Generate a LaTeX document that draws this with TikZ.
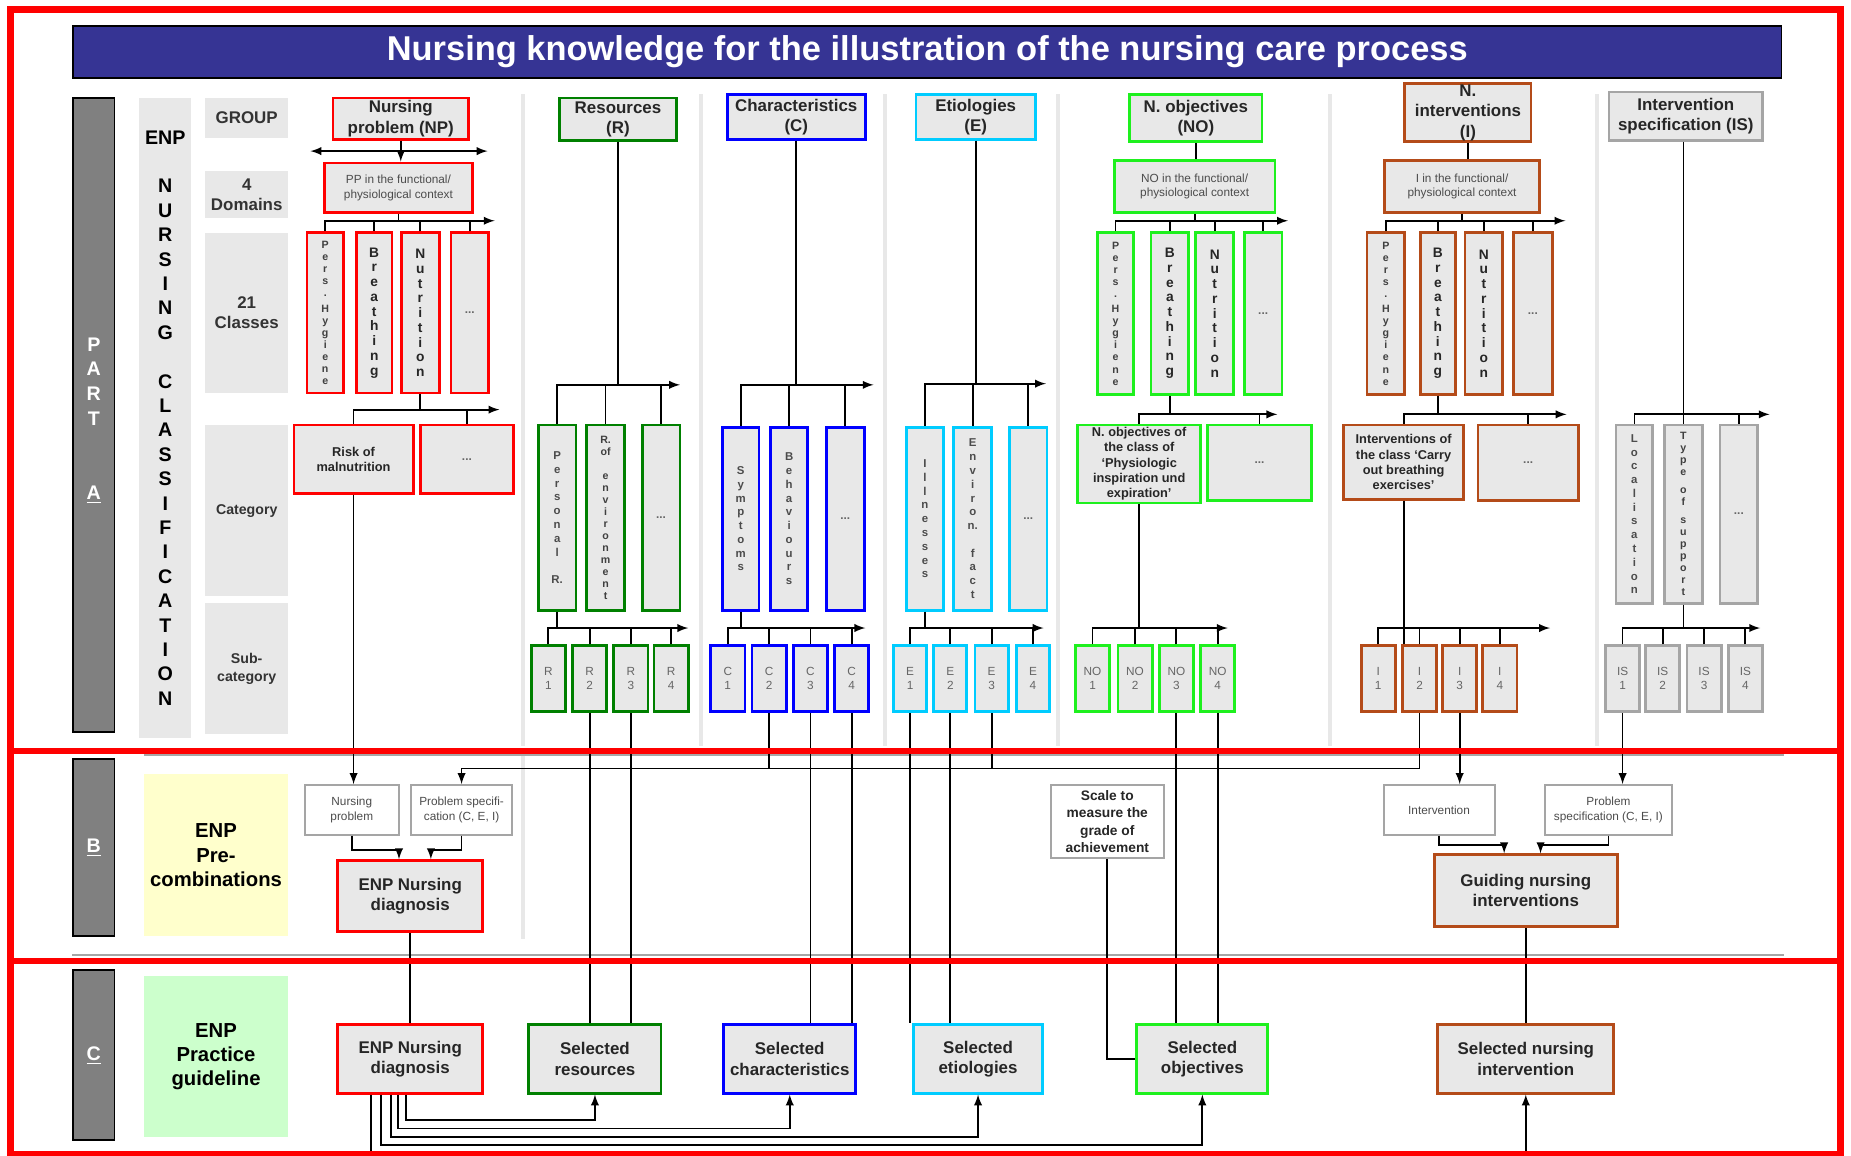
\documentclass[tikz,border=0pt]{standalone}
\usepackage{fontspec}
\setmainfont{Liberation Sans}
\definecolor{enpblue}{RGB}{54,52,148}
\definecolor{enpred}{RGB}{255,0,0}
\definecolor{enpgreen}{RGB}{0,128,0}
\definecolor{enpblu}{RGB}{0,0,255}
\definecolor{enpcyan}{RGB}{0,204,255}
\definecolor{enplime}{RGB}{30,240,30}
\definecolor{enpbrown}{RGB}{180,75,25}
\definecolor{enpgray}{RGB}{165,165,165}
\definecolor{boxfill}{RGB}{232,232,232}
\definecolor{bargray}{RGB}{128,128,128}
\definecolor{sepgray}{RGB}{232,232,232}
\definecolor{prefill}{RGB}{255,255,204}
\definecolor{guidefill}{RGB}{204,255,204}
\newcommand{\enpbox}[7]{\node[#6,minimum width={(#4-#2)*0.6pt},minimum height={(#5-#3)*0.6pt}] (#1) at ({(#2+#4)/2},{(#3+#5)/2}) {#7};}

\begin{document}
\begin{tikzpicture}[x=0.6pt,y=-0.6pt,line width=0.9pt,>=latex,
 box/.style={draw=#1,fill=boxfill,line width=1.4pt,inner sep=0pt,align=center,text=black!85},
 wbox/.style={draw=enpgray,fill=white,line width=1pt,inner sep=0pt,align=center,text=black!70},
 lbl/.style={fill=boxfill,inner sep=0pt,align=center,text=black!80,font=\bfseries\fontsize{8.6}{10}\selectfont},
 lbls/.style={lbl,font=\bfseries\fontsize{7.2}{9}\selectfont},
 bar/.style={draw=black,fill=bargray,line width=1pt,inner sep=0pt,align=center,text=white,font=\bfseries\fontsize{10}{12.6}\selectfont},
 hd/.style={font=\bfseries\fontsize{8.6}{10.3}\selectfont},
 sm/.style={font=\fontsize{6}{7.4}\selectfont,text=black!70},
 cat/.style={font=\bfseries\fontsize{6.5}{7.8}\selectfont},
 vbig/.style={font=\bfseries\fontsize{7}{7.5}\selectfont},
 vmid/.style={font=\bfseries\fontsize{5.8}{7}\selectfont,text=black!70},
 vsml/.style={font=\bfseries\fontsize{5.4}{6.1}\selectfont,text=black!75},
 dots/.style={font=\bfseries\fontsize{6}{7}\selectfont,text=black!60},
 subc/.style={font=\fontsize{6}{7.2}\selectfont,text=black!60},
 redframe/.style={draw=enpred,line width=3.3pt}]
\useasboundingbox (0,0) rectangle (1568,979);
\clip (0,0) rectangle (1568,979);
\foreach \x in {443,594,750,896,1127,1353} \draw[sepgray,line width=2pt] (\x,80) -- (\x,632);
\draw[sepgray,line width=2pt] (443,640) -- (443,795);
\draw[black!35,line width=1.2pt] (122,639) -- (1511,639);
\draw[black!35,line width=1.2pt] (61,809) -- (1511,809);
\enpbox{title}{62}{22}{1509}{66}{draw=black,line width=0.8pt,fill=enpblue,text=white,font=\bfseries\fontsize{17.5}{20}\selectfont}{Nursing knowledge for the illustration of the nursing care process}
\enpbox{partA}{62}{83}{97}{620}{bar}{\mbox{}\\P\\A\\R\\T\\[25pt]\underline{A}}
\enpbox{partB}{62}{643}{97}{793}{bar}{\underline{B}}
\enpbox{partC}{62}{822}{97}{966}{bar}{\underline{C}}
\enpbox{enpcl}{118}{83}{162}{625}{lbl,text=black,font=\bfseries\fontsize{10}{12.4}\selectfont}{ENP\\[12.4pt]N\\U\\R\\S\\I\\N\\G\\[12.4pt]C\\L\\A\\S\\S\\I\\F\\I\\C\\A\\T\\I\\O\\N}
\enpbox{grp}{174}{83}{244}{117}{lbl}{GROUP}
\enpbox{dom}{174}{145}{244}{185}{lbl}{4\\Domains}
\enpbox{cls}{174}{197}{244}{333}{lbl}{21\\Classes}
\enpbox{catg}{174}{360}{244}{505}{lbls}{Category}
\enpbox{subcat}{174}{511}{244}{622}{lbls}{Sub-\\category}
\enpbox{pre}{122}{656}{244}{793}{lbl,fill=prefill,text=black,font=\bfseries\fontsize{10.3}{12.3}\selectfont}{ENP\\Pre-\\combinations}
\enpbox{guide}{122}{827}{244}{963}{lbl,fill=guidefill,text=black,font=\bfseries\fontsize{10.3}{12.3}\selectfont}{ENP\\Practice\\guideline}

\enpbox{np}{282}{83}{397}{118}{box=enpred,hd}{Nursing\\problem (NP)}
\enpbox{npx}{275}{138}{400}{180}{box=enpred,sm}{PP in the functional/\\physiological context}
\coordinate (npl) at (263,128);
\coordinate (npr) at (413,128);
\draw[<->] (npl) -- (npr);
\draw[->] (np.south) -- (np.south |- npx.north);
\enpbox{npc1}{260}{197}{291}{333}{box=enpred,vsml}{P\\e\\r\\s\\.\\[2pt]H\\y\\g\\i\\e\\n\\e}
\enpbox{npc2}{302}{197}{332}{333}{box=enpred,vbig}{B\\r\\e\\a\\t\\h\\i\\n\\g}
\enpbox{npc3}{340}{197}{372}{333}{box=enpred,vbig}{N\\u\\t\\r\\i\\t\\i\\o\\n}
\enpbox{npc4}{382}{197}{414}{333}{box=enpred,dots}{...}
\coordinate (npb1) at (419,187);
\draw (npx.south) -- (npx.south |- npb1);
\draw[->] (npc1.north) |- (npb1);
\foreach \n in {npc2,npc3,npc4} \draw (\n.north) -- (\n.north |- npb1);
\enpbox{npk1}{249}{360}{350}{418}{box=enpred,cat}{Risk of\\malnutrition}
\enpbox{npk2}{356}{360}{435}{418}{box=enpred,dots}{...}
\coordinate (npb2) at (423,347);
\draw (npc3.south) -- (npc3.south |- npb2);
\draw[->] (npk1.north) |- (npb2);
\draw (npk2.north) -- (npk2.north |- npb2);

\enpbox{rh}{474}{83}{573}{119}{box=enpgreen,hd}{Resources\\(R)}
\enpbox{rk1}{456}{360}{488}{517}{box=enpgreen,vmid}{P\\e\\r\\s\\o\\n\\a\\l\\[7pt]R.}
\enpbox{rk2}{497}{360}{529}{517}{box=enpgreen,vsml}{R.\\of\\[6pt]e\\n\\v\\i\\r\\o\\n\\m\\e\\n\\t}
\enpbox{rk3}{544}{360}{576}{517}{box=enpgreen,dots}{...}
\coordinate (rb1) at (576,326);
\draw (rh.south) -- (rh.south |- rb1);
\draw[->] (rk1.north) |- (rb1);
\foreach \n in {rk2,rk3} \draw (\n.north) -- (\n.north |- rb1);
\foreach \i/\xa in {1/450,2/485,3/520,4/554} {\enpbox{rs\i}{\xa}{547}{\xa+29}{603}{box=enpgreen,subc}{R\\\i}}
\coordinate (rb2) at (583,532);
\draw (rk1.south) -- (rk1.south |- rb2);
\draw[->] (rs1.north) |- (rb2);
\foreach \i in {2,3,4} \draw (rs\i.north) -- (rs\i.north |- rb2);

\enpbox{ch}{616}{80}{733}{118}{box=enpblu,hd}{Characteristics\\(C)}
\enpbox{ck1}{612}{362}{643}{517}{box=enpblu,vmid}{S\\y\\m\\p\\t\\o\\m\\s}
\enpbox{ck2}{653}{362}{684}{517}{box=enpblu,vmid}{B\\e\\h\\a\\v\\i\\o\\u\\r\\s}
\enpbox{ck3}{700}{362}{732}{517}{box=enpblu,dots}{...}
\coordinate (cb1) at (740,326);
\draw (ch.south) -- (ch.south |- cb1);
\draw[->] (ck1.north) |- (cb1);
\foreach \n in {ck2,ck3} \draw (\n.north) -- (\n.north |- cb1);
\foreach \i/\xa in {1/602,2/637,3/672,4/707} {\enpbox{cs\i}{\xa}{547}{\xa+29}{603}{box=enpblu,subc}{C\\\i}}
\coordinate (cb2) at (733,532);
\draw (ck1.south) -- (ck1.south |- cb2);
\draw[->] (cs1.north) |- (cb2);
\foreach \i in {2,3,4} \draw (cs\i.north) -- (cs\i.north |- cb2);

\enpbox{eh}{776}{80}{877}{118}{box=enpcyan,hd}{Etiologies\\(E)}
\enpbox{ek1}{768}{362}{799}{517}{box=enpcyan,vmid}{I\\l\\l\\n\\e\\s\\s\\e\\s}
\enpbox{ek2}{808}{362}{840}{517}{box=enpcyan,vmid}{E\\n\\v\\i\\r\\o\\n.\\[7pt]f\\a\\c\\t}
\enpbox{ek3}{855}{362}{887}{517}{box=enpcyan,dots}{...}
\coordinate (eb1) at (886,325);
\draw (eh.south) -- (eh.south |- eb1);
\draw[->] (ek1.north) |- (eb1);
\foreach \n in {ek2,ek3} \draw (\n.north) -- (\n.north |- eb1);
\foreach \i/\xa in {1/757,2/791,3/826,4/861} {\enpbox{es\i}{\xa}{547}{\xa+28}{603}{box=enpcyan,subc}{E\\\i}}
\coordinate (eb2) at (884,532);
\draw (ek1.south) -- (ek1.south |- eb2);
\draw[->] (es1.north) |- (eb2);
\foreach \i in {2,3,4} \draw (es\i.north) -- (es\i.north |- eb2);

\enpbox{noh}{957}{80}{1069}{120}{box=enplime,hd}{N. objectives\\(NO)}
\enpbox{nox}{944}{136}{1080}{180}{box=enplime,sm}{NO in the functional/\\physiological context}
\draw (noh.south) -- (noh.south |- nox.north);
\enpbox{noc1}{930}{197}{960}{334}{box=enplime,vsml}{P\\e\\r\\s\\.\\[2pt]H\\y\\g\\i\\e\\n\\e}
\enpbox{noc2}{975}{197}{1007}{334}{box=enplime,vbig}{B\\r\\e\\a\\t\\h\\i\\n\\g}
\enpbox{noc3}{1013}{197}{1045}{334}{box=enplime,vbig}{N\\u\\t\\r\\i\\t\\i\\o\\n}
\enpbox{noc4}{1054}{197}{1086}{334}{box=enplime,dots}{...}
\coordinate (nob1) at (1091,187);
\draw (nox.south) -- (nox.south |- nob1);
\draw[->] (noc1.north) |- (nob1);
\foreach \n in {noc2,noc3,noc4} \draw (\n.north) -- (\n.north |- nob1);
\enpbox{nok1}{913}{360}{1017}{426}{box=enplime,cat}{N. objectives of\\the class of\\`Physiologic\\inspiration und\\expiration'}
\enpbox{nok2}{1023}{360}{1111}{424}{box=enplime,dots}{...}
\coordinate (nob2) at (1082,351);
\draw (noc2.south) -- (noc2.south |- nob2);
\draw[->] (nok1.north) |- (nob2);
\draw (nok2.north) -- (nok2.north |- nob2);
\foreach \i/\xa in {1/911,2/947,3/982,4/1017} {\enpbox{ns\i}{\xa}{547}{\xa+29}{603}{box=enplime,subc}{NO\\\i}}
\coordinate (nob3) at (1040,532);
\draw (nok1.south) -- (nok1.south |- nob3);
\draw[->] (ns1.north) |- (nob3);
\foreach \i in {2,3,4} \draw (ns\i.north) -- (ns\i.north |- nob3);

\enpbox{ih}{1190}{71}{1297}{120}{box=enpbrown,hd}{N.\\interventions\\(I)}
\enpbox{ix}{1173}{136}{1304}{180}{box=enpbrown,sm}{I in the functional/\\physiological context}
\draw (ih.south) -- (ih.south |- ix.north);
\enpbox{ic1}{1158}{197}{1190}{334}{box=enpbrown,vsml}{P\\e\\r\\s\\.\\[2pt]H\\y\\g\\i\\e\\n\\e}
\enpbox{ic2}{1203}{197}{1233}{334}{box=enpbrown,vbig}{B\\r\\e\\a\\t\\h\\i\\n\\g}
\enpbox{ic3}{1241}{197}{1273}{334}{box=enpbrown,vbig}{N\\u\\t\\r\\i\\t\\i\\o\\n}
\enpbox{ic4}{1282}{197}{1315}{334}{box=enpbrown,dots}{...}
\coordinate (ib1) at (1326,187);
\draw (ix.south) -- (ix.south |- ib1);
\draw[->] (ic1.north) |- (ib1);
\foreach \n in {ic2,ic3,ic4} \draw (\n.north) -- (\n.north |- ib1);
\enpbox{ik1}{1138}{360}{1240}{423}{box=enpbrown,cat}{Interventions of\\the class `Carry\\out breathing\\exercises'}
\enpbox{ik2}{1252}{360}{1337}{424}{box=enpbrown,dots}{...}
\coordinate (ib2) at (1327,351);
\draw (ic2.south) -- (ic2.south |- ib2);
\draw[->] (ik1.north) |- (ib2);
\draw (ik2.north) -- (ik2.north |- ib2);
\foreach \i/\xa in {1/1153,2/1188,3/1222,4/1256} {\enpbox{in\i}{\xa}{547}{\xa+29}{603}{box=enpbrown,subc}{I\\\i}}
\coordinate (ib3) at (1313,532);
\draw (ik1.south) -- (ik1.south |- in2.north);
\draw[->] (in1.north) |- (ib3);
\foreach \i in {2,3,4} \draw (in\i.north) -- (in\i.north |- ib3);

\enpbox{sph}{1363}{78}{1493}{119}{box=enpgray,hd}{Intervention\\specification (IS)}
\enpbox{spk1}{1369}{360}{1400}{511}{box=enpgray,vmid}{L\\o\\c\\a\\l\\i\\s\\a\\t\\i\\o\\n}
\enpbox{spk2}{1410}{360}{1442}{511}{box=enpgray,vsml}{T\\y\\p\\e\\[3pt]o\\f\\[3pt]s\\u\\p\\p\\o\\r\\t}
\enpbox{spk3}{1457}{360}{1489}{511}{box=enpgray,dots}{...}
\coordinate (spb1) at (1499,351);
\draw (spk2.north |- sph.south) -- (spk2.north);
\draw[->] (spk1.north) |- (spb1);
\draw (spk3.north) -- (spk3.north |- spb1);
\foreach \i/\xa in {1/1360,2/1394,3/1429,4/1464} {\enpbox{sp\i}{\xa}{547}{\xa+29}{603}{box=enpgray,subc}{IS\\\i}}
\coordinate (spb2) at (1491,532);
\draw (spk2.south) -- (spk2.south |- spb2);
\draw[->] (sp1.north) |- (spb2);
\foreach \i in {2,3,4} \draw (sp\i.north) -- (sp\i.north |- spb2);

\enpbox{bnp}{258}{665}{338}{707}{wbox,sm}{Nursing\\problem}
\enpbox{bps}{348}{665}{434}{707}{wbox,sm}{Problem specifi-\\cation (C, E, I)}
\enpbox{bdiag}{286}{729}{409}{789}{box=enpred,hd}{ENP Nursing\\diagnosis}
\enpbox{bscale}{890}{665}{986}{727}{wbox,text=black!85,font=\bfseries\fontsize{7}{8.8}\selectfont}{Scale to\\measure the\\grade of\\achievement}
\enpbox{bint}{1172}{665}{1266}{707}{wbox,sm}{Intervention}
\enpbox{bps2}{1309}{665}{1416}{707}{wbox,sm}{Problem\\specification (C, E, I)}
\enpbox{bgui}{1215}{724}{1370}{785}{box=enpbrown,hd}{Guiding nursing\\interventions}

\enpbox{cdiag}{286}{868}{409}{926}{box=enpred,hd}{ENP Nursing\\diagnosis}
\enpbox{csr}{448}{868}{560}{926}{box=enpgreen,hd}{Selected\\resources}
\enpbox{csc}{613}{868}{725}{926}{box=enpblu,hd}{Selected\\characteristics}
\enpbox{cse}{774}{868}{883}{926}{box=enpcyan,hd}{Selected\\etiologies}
\enpbox{cso}{963}{868}{1074}{926}{box=enplime,hd}{Selected\\objectives}
\enpbox{csn}{1218}{868}{1367}{926}{box=enpbrown,hd}{Selected nursing\\intervention}

\draw[->] (npk1.south) -- (npk1.south |- bnp.north);
\draw[->] (in2.south) |- (bps.north |- 0,651) -- (bps.north);
\draw (cs2.south) -- (cs2.south |- 0,651);
\draw (es3.south) -- (es3.south |- 0,651);
\draw[->] (in3.south) -- (in3.south |- bint.north);
\draw[->] (sp1.south) -- (sp1.south |- bps2.north);
\foreach \n/\m in {rs2/csr,rs3/csr,cs3/csc,cs4/csc,es1/cse,es2/cse,ns3/cso,ns4/cso} \draw (\n.south) -- (\n.south |- \m.north);
\draw[->] (bnp.south) -- ++(0,12) -| ([xshift=-5.7pt]bdiag.north);
\draw[->] (bps.south) -- ++(0,12) -| ([xshift=10.5pt]bdiag.north);
\draw[->] (bint.south) -- ++(0,8) -| ([xshift=-11pt]bgui.north);
\draw[->] (bps2.south) -- ++(0,8) -| ([xshift=7.5pt]bgui.north);
\draw (bdiag) -- (cdiag);
\draw (bgui) -- (csn);
\draw (bscale.south) |- (cso.west);
\draw[->] (cdiag.south -| 344,0) |- (csr.south |- 0,949) -- (csr.south);
\draw[->] (cdiag.south -| 337,0) |- (csc.south |- 0,956) -- (csc.south);
\draw[->] (cdiag.south -| 331,0) |- (cse.south |- 0,963) -- (cse.south);
\draw[->] (cdiag.south -| 323,0) |- (cso.south |- 0,970) -- (cso.south);
\draw[->] (cdiag.south -| 314,0) |- (csn.south |- 0,995) -- (csn.south);

\draw[redframe] (9,8) rectangle (1559,636);
\draw[redframe] (9,636) rectangle (1559,814);
\draw[redframe] (9,814) rectangle (1559,978);
\end{tikzpicture}
\end{document}
